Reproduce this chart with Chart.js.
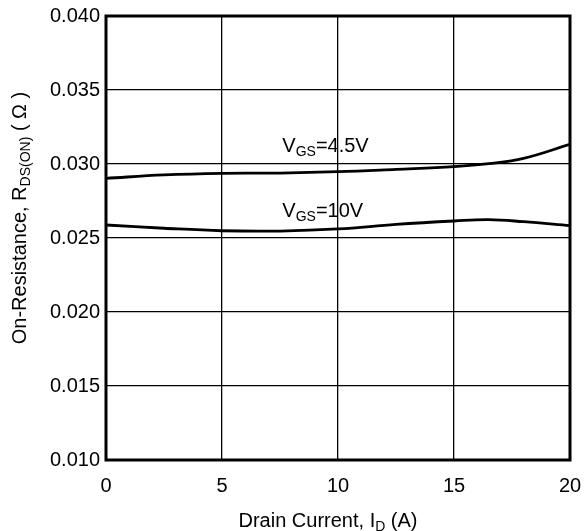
<!DOCTYPE html>
<html lang="en">
<head>
  <meta charset="UTF-8" />
  <title>On-Resistance vs Drain Current</title>
  <script src="https://cdn.jsdelivr.net/npm/chart.js"></script>
  <style>
    body { margin: 0; background: #fff; }
  </style>
</head>
<body>
  <canvas id="rdsChart" width="586" height="531"></canvas>

  <script>
    // Drain current (A) and on-resistance (ohm) for the two gate drives
    const drainCurrent = [0, 2.5, 5, 7.5, 10, 12.5, 15, 16.5, 18, 20];
    const rdsVgs45 = [0.02903, 0.02926, 0.02937, 0.02939, 0.02948, 0.02964, 0.02982, 0.03002, 0.03038, 0.03133];
    const rdsVgs10 = [0.02588, 0.02566, 0.02549, 0.02547, 0.02561, 0.02592, 0.02615, 0.02624, 0.0261, 0.02583];
    const xTicks = [0, 5, 10, 15, 20];
    const yTicks = [0.010, 0.015, 0.020, 0.025, 0.030, 0.035, 0.040];

    const FONT = 'Liberation Sans, Arial, sans-serif';

    // draw text made of [text, isSubscript] pieces, starting at x
    function drawPieces(ctx, pieces, x, y, size, align) {
      const subSize = Math.round(size * 0.7);
      let total = 0;
      pieces.forEach(p => {
        ctx.font = (p[1] ? subSize : size) + 'px ' + FONT;
        total += ctx.measureText(p[0]).width;
      });
      let cx = align === 'center' ? x - total / 2 : x;
      ctx.textBaseline = 'alphabetic';
      ctx.textAlign = 'left';
      pieces.forEach(p => {
        ctx.font = (p[1] ? subSize : size) + 'px ' + FONT;
        ctx.fillText(p[0], cx, p[1] ? y + size * 0.18 : y);
        cx += ctx.measureText(p[0]).width;
      });
    }

    const annotations = {
      id: 'annotations',
      afterDatasetsDraw(chart) {
        const { ctx, chartArea: a, scales } = chart;
        ctx.save();
        ctx.fillStyle = '#000';

        // heavy frame round the plot
        ctx.strokeStyle = '#000';
        ctx.lineWidth = 3;
        ctx.strokeRect(a.left, a.top, a.right - a.left, a.bottom - a.top);

        // curve labels
        const lx = scales.x.getPixelForValue(7.6);
        drawPieces(ctx, [['V', false], ['GS', true], ['=4.5V', false]], lx, scales.y.getPixelForValue(0.03128) + 7, 20, 'left');
        drawPieces(ctx, [['V', false], ['GS', true], ['=10V', false]], lx, scales.y.getPixelForValue(0.02689) + 7, 20, 'left');

        // axis titles
        drawPieces(ctx, [['Drain Current, I', false], ['D', true], [' (A)', false]], 328, 527, 20, 'center');
        ctx.translate(26, 218);
        ctx.rotate(-Math.PI / 2);
        drawPieces(ctx, [['On-Resistance, R', false], ['DS(ON)', true], [' ( \u03A9 )', false]], 0, 0, 20, 'center');
        ctx.restore();
      }
    };

    new Chart(document.getElementById('rdsChart').getContext('2d'), {
      type: 'line',
      data: {
        labels: drainCurrent,
        datasets: [
          {
            label: 'VGS=4.5V',
            data: drainCurrent.map((x, i) => ({ x, y: rdsVgs45[i] })),
            borderColor: '#000',
            borderWidth: 2.8,
            pointRadius: 0,
            tension: 0.4
          },
          {
            label: 'VGS=10V',
            data: drainCurrent.map((x, i) => ({ x, y: rdsVgs10[i] })),
            borderColor: '#000',
            borderWidth: 2.8,
            pointRadius: 0,
            tension: 0.4
          }
        ]
      },
      options: {
        responsive: false,
        animation: false,
        layout: { padding: { top: 16, right: 16, left: 0, bottom: 0 } },
        plugins: {
          legend: { display: false },
          tooltip: { enabled: false }
        },
        scales: {
          x: {
            type: 'linear',
            min: 0,
            max: 20,
            afterFit(scale) {
              scale.height = 71;
              scale.paddingLeft = 0;
              scale.paddingRight = 0;
            },
            afterBuildTicks(scale) { scale.ticks = xTicks.map(v => ({ value: v })); },
            grid: { color: '#000', lineWidth: 1.3, drawTicks: false },
            border: { display: false },
            ticks: {
              color: '#000',
              padding: 14,
              font: { family: FONT, size: 20 },
              maxRotation: 0
            }
          },
          y: {
            min: 0.010,
            max: 0.040,
            afterFit(scale) {
              scale.width = 106;
              scale.paddingTop = 0;
              scale.paddingBottom = 0;
            },
            afterBuildTicks(scale) { scale.ticks = yTicks.map(v => ({ value: v })); },
            grid: { color: '#000', lineWidth: 1.3, drawTicks: false },
            border: { display: false },
            ticks: {
              color: '#000',
              padding: 6,
              font: { family: FONT, size: 20 },
              callback: v => v.toFixed(3)
            }
          }
        }
      },
      plugins: [annotations]
    });
  </script>
</body>
</html>
